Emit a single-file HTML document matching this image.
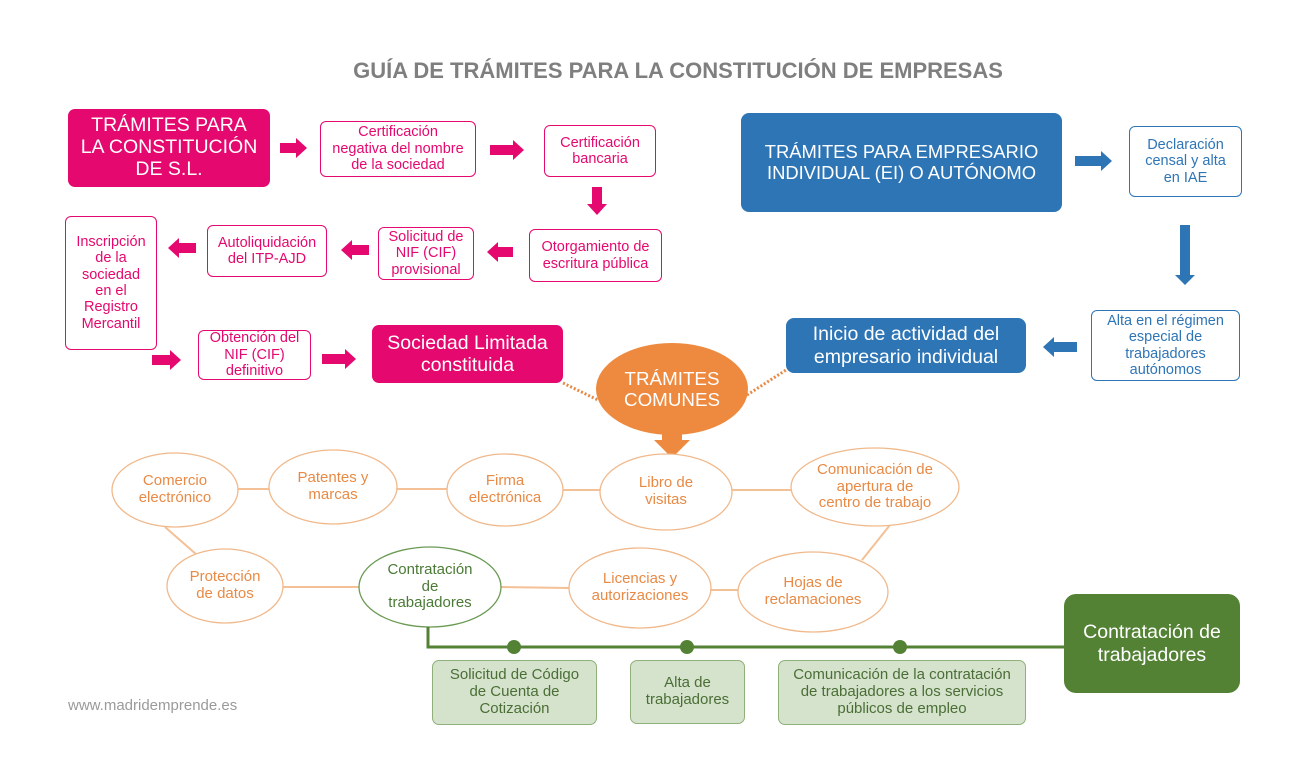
<!DOCTYPE html>
<html><head><meta charset="utf-8"><style>
body{margin:0;background:#fff;width:1306px;height:774px;overflow:hidden;position:relative;font-family:"Liberation Sans",sans-serif}
.b{position:absolute;box-sizing:border-box;display:flex;align-items:center;justify-content:center;text-align:center;line-height:1.13}
.pk{border:1px solid #e5086f;color:#e5086f;border-radius:6px;font-size:14.5px;background:#fff}
.pf{background:#e5086f;color:#fff;border-radius:7px}
.bl{border:1px solid #2e75b6;color:#2e75b6;border-radius:6px;font-size:14.5px;background:#fff}
.bf{background:#2e75b6;color:#fff;border-radius:8px}
.gl{background:#d5e3cd;border:1px solid #8fb07a;color:#4a6e35;border-radius:7px;font-size:15px}
.t{position:absolute;text-align:center;line-height:1.13;font-size:15px;display:flex;align-items:center;justify-content:center;box-sizing:border-box}
.o{color:#e88a45}
</style></head><body>
<svg width="1306" height="774" style="position:absolute;left:0;top:0">
<g fill="#e5086f">
<polygon points="280,143 296,143 296,138 307,148 296,158 296,153 280,153"/>
<polygon points="490,145 513,145 513,140 524,150 513,160 513,155 490,155"/>
<polygon points="592,187 602,187 602,204 607,204 597,215 587,204 592,204"/>
<polygon points="513,247 498,247 498,242 487,252 498,262 498,257 513,257"/>
<polygon points="369,245 352,245 352,240 341,250 352,260 352,255 369,255"/>
<polygon points="196,243 179,243 179,238 168,248 179,258 179,253 196,253"/>
<polygon points="152,355 170,355 170,350 181,360 170,370 170,365 152,365"/>
<polygon points="322,354 345,354 345,349 356,359 345,369 345,364 322,364"/>
</g>
<g fill="#2e75b6">
<polygon points="1075,156 1101,156 1101,151 1112,161 1101,171 1101,166 1075,166"/>
<polygon points="1180,225 1190,225 1190,275 1195,275 1185,285 1175,275 1180,275"/>
<polygon points="1077,342 1054,342 1054,337 1043,347 1054,357 1054,352 1077,352"/>
</g>
<g stroke="#e88a45" stroke-width="3" stroke-dasharray="2,2" fill="none">
<line x1="563" y1="383" x2="598" y2="400"/><line x1="747" y1="395" x2="786" y2="370"/>
</g>
<polygon fill="#ed8a3f" points="662,430 682,430 682,440 690,440 672,458 654,440 662,440"/>
<ellipse cx="672" cy="389" rx="76" ry="46" fill="#ed8a3f"/>
<g stroke="#f4c095" stroke-width="2" fill="none">
<line x1="238" y1="489" x2="269" y2="489"/><line x1="397" y1="489" x2="447" y2="489"/>
<line x1="563" y1="490" x2="600" y2="490"/><line x1="732" y1="490" x2="791" y2="490"/>
<line x1="165" y1="527" x2="197" y2="555"/><line x1="283" y1="587" x2="359" y2="587"/>
<line x1="501" y1="587" x2="569" y2="588"/><line x1="711" y1="590" x2="738" y2="590"/>
<line x1="890" y1="525" x2="862" y2="560"/>
</g>
<g stroke="#f0b98c" stroke-width="1.3" fill="#fff">
<ellipse cx="175" cy="490" rx="63" ry="37"/><ellipse cx="333" cy="487" rx="64" ry="37"/>
<ellipse cx="505" cy="490" rx="58" ry="36"/><ellipse cx="666" cy="492" rx="66" ry="38"/>
<ellipse cx="875" cy="487" rx="84" ry="39"/><ellipse cx="225" cy="586" rx="58" ry="37"/>
<ellipse cx="640" cy="588" rx="71" ry="40"/><ellipse cx="813" cy="592" rx="75" ry="40"/>
</g>
<ellipse cx="430" cy="587" rx="71" ry="40" stroke="#6b9a55" stroke-width="1.3" fill="#fff"/>
<polyline points="428,627 428,647 1064,647" stroke="#548235" stroke-width="3" fill="none"/>
<g fill="#548235"><circle cx="514" cy="647" r="7"/><circle cx="687" cy="647" r="7"/><circle cx="900" cy="647" r="7"/></g>
</svg>
<div class="t" style="left:0;top:56px;width:1356px;font-size:22px;font-weight:bold;color:#7f7f7f;height:30px">GUÍA DE TRÁMITES PARA LA CONSTITUCIÓN DE EMPRESAS</div>
<div class="b pf" style="left:68px;top:109px;width:202px;height:78px;font-size:19.5px;line-height:1.12">TRÁMITES PARA<br>LA CONSTITUCIÓN<br>DE S.L.</div>
<div class="b pk" style="left:320px;top:121px;width:156px;height:56px">Certificación<br>negativa del nombre<br>de la sociedad</div>
<div class="b pk" style="left:544px;top:125px;width:112px;height:52px">Certificación<br>bancaria</div>
<div class="b pk" style="left:529px;top:229px;width:133px;height:53px">Otorgamiento de<br>escritura pública</div>
<div class="b pk" style="left:378px;top:227px;width:96px;height:53px">Solicitud de<br>NIF (CIF)<br>provisional</div>
<div class="b pk" style="left:207px;top:225px;width:120px;height:52px">Autoliquidación<br>del ITP-AJD</div>
<div class="b pk" style="left:65px;top:216px;width:92px;height:134px">Inscripción<br>de la<br>sociedad<br>en el<br>Registro<br>Mercantil</div>
<div class="b pk" style="left:198px;top:330px;width:113px;height:50px">Obtención del<br>NIF (CIF)<br>definitivo</div>
<div class="b pf" style="left:372px;top:325px;width:191px;height:58px;font-size:19.5px">Sociedad Limitada<br>constituida</div>
<div class="b bf" style="left:741px;top:113px;width:321px;height:99px;font-size:18.4px">TRÁMITES PARA EMPRESARIO<br>INDIVIDUAL (EI) O AUTÓNOMO</div>
<div class="b bl" style="left:1129px;top:126px;width:113px;height:71px">Declaración<br>censal y alta<br>en IAE</div>
<div class="b bl" style="left:1091px;top:310px;width:149px;height:71px">Alta en el régimen<br>especial de<br>trabajadores<br>autónomos</div>
<div class="b bf" style="left:786px;top:318px;width:240px;height:55px;font-size:19.5px">Inicio de actividad del<br>empresario individual</div>
<div class="t" style="left:596px;top:362px;width:152px;height:54px;color:#fff;font-size:18.8px">TRÁMITES<br>COMUNES</div>
<div class="t o" style="left:112px;top:470px;width:126px;height:40px">Comercio<br>electrónico</div>
<div class="t o" style="left:269px;top:467px;width:128px;height:40px">Patentes y<br>marcas</div>
<div class="t o" style="left:447px;top:470px;width:116px;height:40px">Firma<br>electrónica</div>
<div class="t o" style="left:600px;top:472px;width:132px;height:40px">Libro de<br>visitas</div>
<div class="t o" style="left:791px;top:462px;width:168px;height:50px">Comunicación de<br>apertura de<br>centro de trabajo</div>
<div class="t o" style="left:167px;top:566px;width:116px;height:40px">Protección<br>de datos</div>
<div class="t" style="left:359px;top:560px;width:142px;height:54px;color:#4a7a35">Contratación<br>de<br>trabajadores</div>
<div class="t o" style="left:569px;top:568px;width:142px;height:40px">Licencias y<br>autorizaciones</div>
<div class="t o" style="left:738px;top:572px;width:150px;height:40px">Hojas de<br>reclamaciones</div>
<div class="b gl" style="left:432px;top:660px;width:165px;height:65px">Solicitud de Código<br>de Cuenta de<br>Cotización</div>
<div class="b gl" style="left:630px;top:660px;width:115px;height:64px">Alta de<br>trabajadores</div>
<div class="b gl" style="left:778px;top:660px;width:248px;height:65px">Comunicación de la contratación<br>de trabajadores a los servicios<br>públicos de empleo</div>
<div class="b" style="left:1064px;top:594px;width:176px;height:99px;background:#548235;color:#fff;border-radius:12px;font-size:19.5px">Contratación de<br>trabajadores</div>
<div style="position:absolute;left:68px;top:697px;font-size:15px;color:#9a9a9a">www.madridemprende.es</div>
</body></html>
